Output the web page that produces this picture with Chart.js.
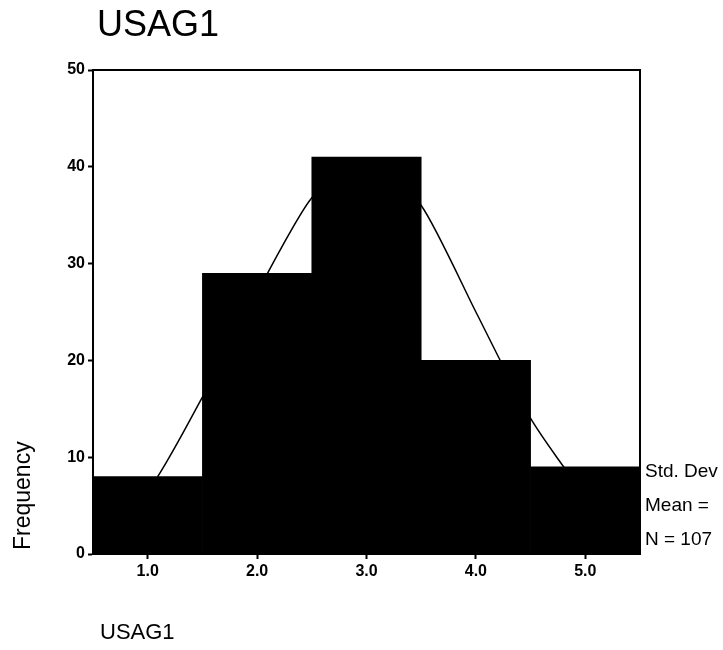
<!DOCTYPE html>
<html>
<head>
<meta charset="utf-8">
<script src="https://cdn.jsdelivr.net/npm/chart.js@4.4.1/dist/chart.umd.min.js"></script>
<style>
    html, body { margin: 0; padding: 0; background: #fff; }
    #wrap { width: 723px; height: 650px; }
</style>
</head>
<body>
<div id="wrap"><canvas id="HistGraph" width="723" height="650"></canvas></div>
<script>
// histogram bins (midpoints) and counts
let binMids = [1, 2, 3, 4, 5];
let counts = [8, 29, 41, 20, 9];
let tickValues = [1, 2, 3, 4, 5];

// normal curve
let curveX = [0.5, 1.0, 1.5, 2.0, 2.5, 3.0, 3.5, 4.0, 4.5, 5.0, 5.5];
let curveY = [3.0, 6.5, 16.2, 27.0, 36.8, 40.7, 36.0, 25.0, 14.0, 6.2, 2.3];

let titleText = "USAG1";
let xTitle = "USAG1";
let yTitle = "Frequency";
let statLines = ["Std. Dev = 1.05", "Mean =", "N = 107"];

let font = "'Liberation Sans', Arial, sans-serif";

let textPlugin = {
    id: "textPlugin",
    afterDraw: function (chart) {
        let ctx = chart.ctx;
        let area = chart.chartArea;
        ctx.save();
        ctx.fillStyle = "#000";

        // frame round the plot
        ctx.strokeStyle = "#000";
        ctx.lineWidth = 2;
        ctx.strokeRect(area.left, area.top, area.right - area.left, area.bottom - area.top);

        ctx.textBaseline = "middle";
        ctx.textAlign = "left";
        ctx.font = "36px " + font;
        ctx.fillText(titleText, 97, 26);

        ctx.font = "22px " + font;
        ctx.fillText(xTitle, 100, 633);

        ctx.font = "19px " + font;
        statLines.forEach(function (line, i) {
            ctx.fillText(line, area.right + 5, 472 + i * 34);
        });

        ctx.translate(24, area.bottom);
        ctx.rotate(-Math.PI / 2);
        ctx.font = "23px " + font;
        ctx.fillText(yTitle, 4, 0);
        ctx.restore();
    }
};

let ctx = document.getElementById("HistGraph").getContext("2d");
let histChart = new Chart(ctx, {
    type: "bar",
    data: {
        datasets: [{
            type: "bar",
            data: binMids.map((x, i) => ({ x: x, y: counts[i] })),
            backgroundColor: "#000",
            borderWidth: 0,
            barPercentage: 1,
            categoryPercentage: 1,
            order: 1
        },
        {
            type: "line",
            data: curveX.map((x, i) => ({ x: x, y: curveY[i] })),
            borderColor: "#000",
            borderWidth: 1.5,
            pointRadius: 0,
            fill: false,
            tension: 0.2,
            order: 2
        }]
    },
    options: {
        responsive: false,
        animation: false,
        layout: { padding: { top: 70, right: 83, left: 0, bottom: 0 } },
        plugins: {
            legend: { display: false },
            tooltip: { enabled: false }
        },
        scales: {
            x: {
                type: "linear",
                offset: false,
                min: 0.5,
                max: 5.5,
                afterBuildTicks: function (scale) {
                    scale.ticks = tickValues.map(v => ({ value: v }));
                },
                afterFit: function (scale) { scale.height = 96; },
                ticks: {
                    color: "#000",
                    font: { family: font, size: 16, weight: "bold" },
                    padding: 3,
                    callback: v => v.toFixed(1)
                },
                grid: { drawOnChartArea: false, offset: false, color: "#000", tickLength: 5, tickWidth: 2 },
                border: { color: "#000", width: 2 }
            },
            y: {
                min: 0,
                max: 50,
                afterFit: function (scale) { scale.width = 93; },
                ticks: {
                    stepSize: 10,
                    color: "#000",
                    font: { family: font, size: 16, weight: "bold" },
                    padding: 3
                },
                grid: { drawOnChartArea: false, color: "#000", tickLength: 5, tickWidth: 2 },
                border: { color: "#000", width: 2 }
            }
        }
    },
    plugins: [textPlugin]
});
</script>
</body>
</html>
